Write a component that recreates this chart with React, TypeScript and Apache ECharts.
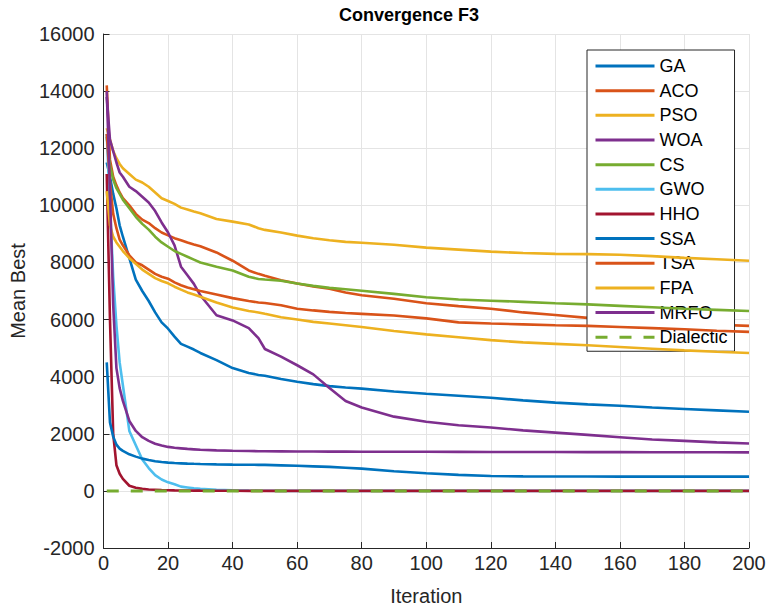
import React, { useEffect, useRef } from "react";
import * as echarts from "echarts";

const iterations = [1, 2, 3, 4, 5, 6, 8, 10, 12, 14, 16, 18, 20, 22, 24, 26, 28, 30, 35, 40, 45, 48, 50, 55, 60, 65, 70, 75, 80, 90, 100, 110, 120, 130, 140, 150, 160, 170, 180, 190, 200];

const ga = [11500, 11000, 10400, 9900, 9300, 8900, 8150, 7400, 7000, 6650, 6250, 5900, 5680, 5400, 5150, 5050, 4950, 4830, 4580, 4300, 4130, 4060, 4030, 3920, 3820, 3740, 3670, 3620, 3580, 3480, 3400, 3330, 3260, 3170, 3090, 3030, 2980, 2920, 2870, 2820, 2770];
const aco = [14200, 11600, 11000, 10700, 10450, 10250, 10000, 9700, 9500, 9380, 9200, 9050, 8950, 8850, 8780, 8700, 8630, 8570, 8350, 8060, 7720, 7600, 7530, 7380, 7260, 7160, 7080, 6950, 6850, 6730, 6570, 6470, 6380, 6250, 6160, 6060, 6000, 5930, 5870, 5820, 5780];
const pso = [12700, 12300, 11900, 11650, 11450, 11300, 11100, 10900, 10800, 10650, 10450, 10250, 10150, 10050, 9920, 9850, 9780, 9720, 9520, 9430, 9330, 9200, 9140, 9050, 8940, 8850, 8780, 8720, 8690, 8620, 8520, 8450, 8380, 8330, 8300, 8290, 8270, 8220, 8160, 8110, 8060];
const woa = [13800, 12300, 11900, 11500, 11150, 11000, 10650, 10500, 10300, 10100, 9800, 9400, 9050, 8600, 7850, 7550, 7250, 6850, 6150, 5970, 5700, 5350, 4970, 4700, 4400, 4080, 3600, 3150, 2920, 2600, 2420, 2300, 2220, 2120, 2040, 1960, 1880, 1800, 1750, 1700, 1660];
const cs = [12400, 11400, 10900, 10600, 10400, 10200, 9900, 9600, 9350, 9150, 8900, 8700, 8550, 8400, 8300, 8200, 8100, 8000, 7850, 7720, 7500, 7420, 7400, 7360, 7260, 7180, 7110, 7060, 7010, 6900, 6780, 6700, 6660, 6620, 6570, 6530, 6480, 6430, 6380, 6340, 6300];
const gwo = [12500, 10000, 7500, 5800, 4500, 3700, 2100, 1600, 1100, 800, 550, 400, 300, 230, 150, 120, 90, 70, 40, 20, 10, 6, 5, 2, 0, 0, 0, 0, 0, 0, 0, 0, 0, 0, 0, 0, 0, 0, 0, 0, 0];
const hho = [11100, 6000, 2000, 900, 600, 420, 180, 110, 70, 50, 40, 30, 22, 18, 15, 12, 10, 8, 5, 3, 2, 1, 1, 0, 0, 0, 0, 0, 0, 0, 0, 0, 0, 0, 0, 0, 0, 0, 0, 0, 0];
const ssa = [4500, 2400, 1900, 1620, 1480, 1400, 1280, 1200, 1130, 1080, 1040, 1010, 990, 975, 965, 955, 948, 942, 930, 920, 915, 912, 910, 895, 880, 860, 840, 810, 780, 690, 620, 560, 520, 510, 505, 502, 500, 500, 500, 500, 500];
const tsa = [12500, 10800, 9700, 9200, 8800, 8600, 8250, 8000, 7900, 7750, 7600, 7500, 7430, 7300, 7200, 7120, 7060, 7000, 6880, 6750, 6650, 6600, 6580, 6500, 6380, 6320, 6270, 6230, 6200, 6140, 6040, 5900, 5860, 5830, 5800, 5780, 5740, 5700, 5660, 5610, 5570];
const fpa = [10500, 9300, 8900, 8700, 8550, 8400, 8150, 7950, 7750, 7600, 7450, 7350, 7270, 7150, 7050, 6950, 6880, 6800, 6600, 6420, 6300, 6250, 6200, 6080, 6000, 5920, 5860, 5800, 5740, 5600, 5480, 5380, 5280, 5200, 5150, 5100, 5040, 4980, 4920, 4870, 4830];
const mrfo = [14000, 10500, 6500, 4300, 3600, 3150, 2450, 2100, 1880, 1750, 1650, 1590, 1540, 1510, 1490, 1470, 1455, 1440, 1420, 1405, 1395, 1390, 1388, 1385, 1380, 1378, 1376, 1374, 1372, 1370, 1368, 1366, 1364, 1362, 1360, 1358, 1356, 1355, 1354, 1352, 1350];
const dialectic = [0, 0, 0, 0, 0, 0, 0, 0, 0, 0, 0, 0, 0, 0, 0, 0, 0, 0, 0, 0, 0, 0, 0, 0, 0, 0, 0, 0, 0, 0, 0, 0, 0, 0, 0, 0, 0, 0, 0, 0, 0];

const seriesNames = ["GA", "ACO", "PSO", "WOA", "CS", "GWO", "HHO", "SSA", "TSA", "FPA", "MRFO", "Dialectic"];
const seriesValues = [ga, aco, pso, woa, cs, gwo, hho, ssa, tsa, fpa, mrfo, dialectic];
const seriesColors = ["#0072BD", "#D95319", "#EDB120", "#7E2F8E", "#77AC30", "#4DBEEE", "#A2142F", "#0072BD", "#D95319", "#EDB120", "#7E2F8E", "#77AC30"];

const FONT = "'Liberation Sans', Arial, Helvetica, sans-serif";

export default function App() {
  const ref = useRef<HTMLDivElement>(null);

  useEffect(() => {
    if (!ref.current) return;
    const chart = echarts.init(ref.current, null, { renderer: "svg" });
    const series = seriesNames.map((name, i) => ({
      name,
      type: "line",
      data: iterations.map((x, j) => [x, seriesValues[i][j]]),
      symbol: "none",
      showSymbol: false,
      clip: true,
      z: 2 + i,
      lineStyle: {
        color: seriesColors[i],
        width: name === "Dialectic" ? 3 : 2.6,
        type: name === "Dialectic" ? [12, 12] : "solid",
      },
      itemStyle: { color: seriesColors[i] },
    }));

    chart.setOption({
      animation: false,
      backgroundColor: "#ffffff",
      textStyle: { fontFamily: FONT },
      title: {
        text: "Convergence F3",
        left: 339,
        top: 6,
        padding: 0,
        textStyle: { fontFamily: FONT, fontSize: 18, fontWeight: "bold", color: "#000" },
      },
      grid: { left: 101, right: 20, top: 34, bottom: 64, containLabel: false },
      legend: {
        orient: "vertical",
        left: 587,
        top: 50,
        padding: [7, 7, 5, 7],
        itemWidth: 59,
        itemHeight: 18,
        itemGap: 6.66,
        backgroundColor: "#ffffff",
        borderColor: "#262626",
        borderWidth: 1,
        borderRadius: 0,
        data: seriesNames,
        itemStyle: { opacity: 0, borderWidth: 0 },
        lineStyle: { width: 3 },
        textStyle: { fontFamily: FONT, fontSize: 18, color: "#000", lineHeight: 18 },
      },
      xAxis: {
        type: "value",
        min: 0,
        max: 200,
        interval: 20,
        name: "Iteration",
        nameLocation: "middle",
        nameGap: 38,
        nameTextStyle: { fontFamily: FONT, fontSize: 20, color: "#262626" },
        axisLine: { show: true, onZero: false, lineStyle: { color: "#262626", width: 1 } },
        axisTick: { show: true, inside: true, length: 6, lineStyle: { color: "#262626" } },
        axisLabel: { fontFamily: FONT, fontSize: 20, color: "#262626", margin: 5, formatter: (v: number) => String(v) },
        splitLine: { show: true, lineStyle: { color: "#e4e4e4", width: 1 } },
      },
      yAxis: {
        type: "value",
        min: -2000,
        max: 16000,
        interval: 2000,
        name: "Mean Best",
        nameLocation: "middle",
        nameGap: 74,
        nameTextStyle: { fontFamily: FONT, fontSize: 20, color: "#262626" },
        axisLine: { show: true, onZero: false, lineStyle: { color: "#262626", width: 1 } },
        axisTick: { show: true, inside: true, length: 6, lineStyle: { color: "#262626" } },
        axisLabel: { fontFamily: FONT, fontSize: 20, color: "#262626", margin: 9, formatter: (v: number) => String(v) },
        splitLine: { show: true, lineStyle: { color: "#e4e4e4", width: 1 } },
      },
      series,
    });

    return () => {
      chart.dispose();
    };
  }, []);

  return (
    <div
      ref={ref}
      style={{ position: "fixed", left: 0, top: 0, width: 769, height: 612, background: "#fff" }}
    />
  );
}
